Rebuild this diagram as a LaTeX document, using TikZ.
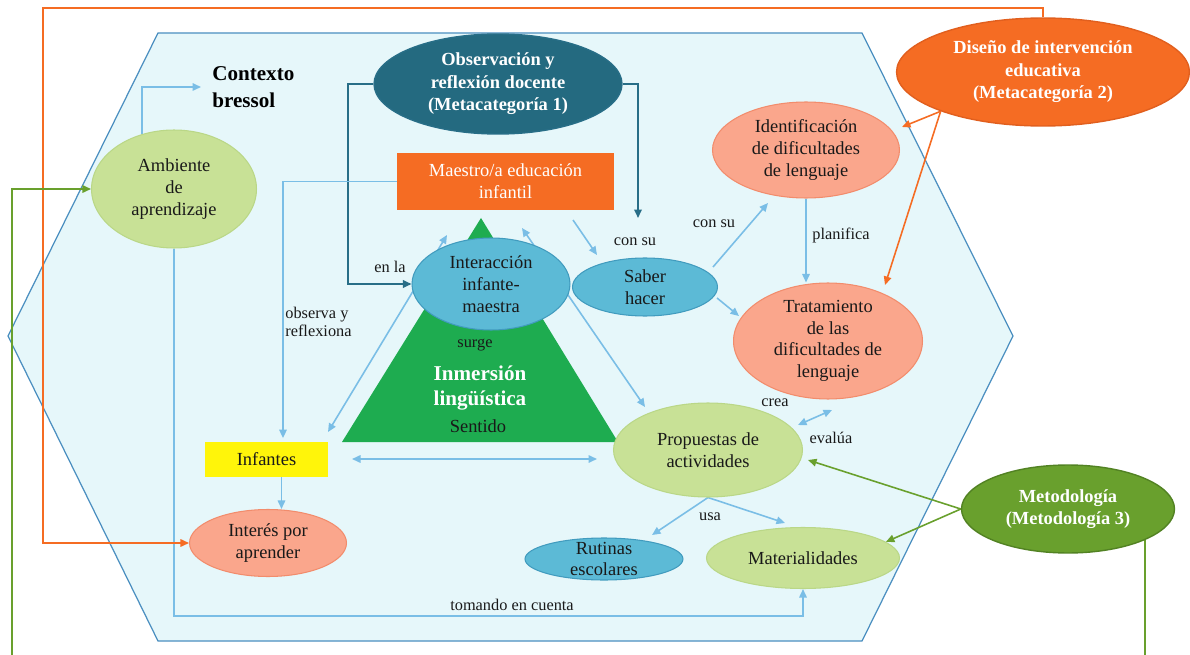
\documentclass[tikz,border=0pt]{standalone}
\usepackage{fontspec}
\setmainfont{Liberation Serif}
\usetikzlibrary{shapes.geometric,arrows.meta,calc}

\definecolor{hexfill}{RGB}{230,247,250}
\definecolor{hexline}{RGB}{75,143,192}
\definecolor{lblue}{RGB}{122,190,230}
\definecolor{tealdark}{RGB}{36,106,128}
\definecolor{tealline}{RGB}{40,110,135}
\definecolor{midblue}{RGB}{92,186,214}
\definecolor{midblueline}{RGB}{65,155,190}
\definecolor{salmon}{RGB}{250,166,140}
\definecolor{salmonline}{RGB}{242,140,108}
\definecolor{lgreen}{RGB}{200,225,150}
\definecolor{lgreenline}{RGB}{186,215,135}
\definecolor{orng}{RGB}{245,108,35}
\definecolor{orngline}{RGB}{225,95,30}
\definecolor{tgreen}{RGB}{30,172,80}
\definecolor{mgreen}{RGB}{105,160,45}
\definecolor{mgreenline}{RGB}{82,130,35}
\definecolor{yel}{RGB}{255,245,10}
\definecolor{ink}{RGB}{25,25,25}

\pgfdeclarelayer{bg}
\pgfdeclarelayer{mid}
\pgfsetlayers{bg,mid,main}

\begin{document}
\begin{tikzpicture}[
  x=0.02cm, y=-0.02cm,
  >={Triangle[length=1.7mm,width=1.5mm]},
  font=\fontsize{10.5}{12.6}\selectfont, text=ink,
  ovalnode/.style={ellipse, inner sep=0pt, align=center, line width=0.6pt},
  lgn/.style={ovalnode, fill=lgreen, draw=lgreenline},
  sal/.style={ovalnode, fill=salmon, draw=salmonline},
  blu/.style={ovalnode, fill=midblue, draw=midblueline},
  metabox/.style={ovalnode, text=white, line width=0.8pt,
    font=\fontsize{10.5}{12.8}\selectfont\bfseries},
  lbl/.style={font=\fontsize{9.3}{10.5}\selectfont, inner sep=0pt},
  lbconn/.style={draw=lblue, line width=0.9pt},
  tlconn/.style={draw=tealline, line width=1.1pt},
  orconn/.style={draw=orng, line width=0.9pt},
  grconn/.style={draw=mgreen, line width=0.9pt}
]
\useasboundingbox (0,0) rectangle (1190,655);

% background hexagon and the triangle
\begin{pgfonlayer}{bg}
  \filldraw[fill=hexfill, draw=hexline, line width=0.7pt]
    (158,33) -- (862,33) -- (1013,336) -- (862,641) -- (158,641) -- (8,336) -- cycle;
  \fill[tgreen] (342,442) -- (618,442) -- (481,218) -- cycle;
\end{pgfonlayer}

% nodes
\node[lgn, minimum width=3.3cm, minimum height=2.36cm] (amb) at (174,189) {Ambiente\\de\\aprendizaje};
\node[anchor=west, inner xsep=0.22cm, inner ysep=0pt, align=left, text=black,
      font=\fontsize{12}{15}\selectfont\bfseries] (ctx) at (201,87) {Contexto\\bressol};
\node[metabox, fill=tealdark, draw=tealline, minimum width=4.96cm, minimum height=2.0cm]
  (obs) at (498,84) {Observación y\\reflexión docente\\(Metacategoría 1)};
\node[rectangle, fill=orng, text=white, minimum width=4.34cm, minimum height=1.14cm,
      align=center, inner sep=0pt] (mae) at (505.5,181.5) {Maestro/a educación\\infantil};
\node[blu, minimum width=3.16cm, minimum height=1.84cm] (inter) at (491,284) {Interacción\\infante-\\maestra};
\node[blu, minimum width=2.9cm, minimum height=1.16cm] (saber) at (645,287) {Saber\\hacer};
\node[sal, minimum width=3.74cm, minimum height=1.92cm] (iden) at (806,150) {Identificación\\de dificultades\\de lenguaje};
\node[sal, minimum width=3.78cm, minimum height=2.32cm, font=\fontsize{10.5}{12.2}\selectfont]
  (trat) at (828,341) {Tratamiento\\de las\\dificultades de\\lenguaje};
\node[metabox, fill=orng, draw=orngline, minimum width=5.86cm, minimum height=2.16cm]
  (dis) at (1043,72) {Diseño de intervención\\educativa\\(Metacategoría 2)};
\node[lgn, minimum width=3.78cm, minimum height=1.88cm] (prop) at (708,450) {Propuestas de\\actividades};
\node[metabox, fill=mgreen, draw=mgreenline, minimum width=4.26cm, minimum height=1.76cm]
  (metod) at (1068,509) {Metodología\\(Metodología 3)};
\node[lgn, minimum width=3.86cm, minimum height=1.22cm] (mat) at (803,558) {Materialidades};
\node[blu, minimum width=3.16cm, minimum height=0.84cm, inner ysep=-5pt,
      font=\fontsize{10.5}{12}\selectfont] (rut) at (604,559) {Rutinas\\escolares};
\node[rectangle, fill=yel, minimum width=2.46cm, minimum height=0.7cm, inner sep=0pt]
  (inf) at (266.5,459.5) {Infantes};
\node[sal, minimum width=3.14cm, minimum height=1.34cm] (int) at (268,543) {Interés por\\aprender};

% texts on the triangle
\node[lbl] (surge) at (475,345) {surge};
\node[align=center, text=white, font=\fontsize{12}{14.2}\selectfont\bfseries] (inm) at (480,388) {Inmersión\\lingüística};
\node[inner sep=0pt] (sent) at (478,426) {Sentido};

% connector labels
\node[lbl] (lenla) at (390,267) {en la};
\node[lbl] (lcon1) at (635,242) {con su};
\node[lbl] (lcon2) at (714,224) {con su};
\node[lbl] (lplan) at (841,235) {planifica};
\node[lbl, anchor=west, align=left] (lobs) at (285,322) {observa y\\reflexiona};
\node[lbl] (lcrea) at (775,403) {crea};
\node[lbl] (leval) at (831,438) {evalúa};
\node[lbl] (lusa) at (710,517) {usa};
\node[lbl] (ltom) at (512,605) {tomando en cuenta};

% free ends and corners of connectors
\coordinate (obsL) at (348,84);
\coordinate (obsEnd) at (638,218);
\coordinate (tb) at (500,616);
\coordinate (mA) at (573,220);  \coordinate (mB) at (597,255);
\coordinate (iiA) at (328,432); \coordinate (iiB) at (447,235);
\coordinate (ipA) at (522,228); \coordinate (ipB) at (645,407);
\coordinate (siA) at (713,267); \coordinate (siB) at (768,203);
\coordinate (stA) at (717,298); \coordinate (stB) at (739,316);
\coordinate (diA) at (902,127);
\coordinate (dtA) at (885,285);
\coordinate (mpA) at (808,460);
\coordinate (gb) at (12,690);
\coordinate (oc) at (43,8);
\coordinate (fpA) at (352,459); \coordinate (fpB) at (597,459);
\coordinate (prA) at (652,535);
\coordinate (pmA) at (785,523);
\coordinate (ceA) at (798,425); \coordinate (ceB) at (832,410);

% connectors
\begin{pgfonlayer}{mid}
  \draw[lbconn, ->] (amb.120) |- (ctx.west);
  \draw[lbconn, ->] (amb.south) |- (tb) -| (mat.south);
  \draw[tlconn, ->] (obs.west) -- (obsL) |- (inter.west);
  \draw[tlconn, ->] (obs.east) -| (obsEnd);
  \draw[lbconn, ->, shorten >=2pt] (mae.west) -| ([xshift=0.33cm]inf.north);
  \draw[lbconn, ->] (mA) -- (mB);
  \draw[lbconn, <->] (iiA) -- (iiB);
  \draw[lbconn, <->] (ipA) -- (ipB);
  \draw[lbconn, ->] (siA) -- (siB);
  \draw[lbconn, ->] (stA) -- (stB);
  \draw[lbconn, ->] (iden.south) -- (iden.south |- trat.north);
  \draw[orconn, ->] (dis.201) -- (diA);
  \draw[orconn, ->] (dis.201) -- (dtA);
  \draw[orconn, ->] (dis.north) |- (oc) |- (int.west);
  \draw[grconn, ->] (metod.west) -- (mpA);
  \draw[grconn, ->] (metod.west) -- (mat.11);
  \draw[grconn, ->] (metod.-22.5) |- (gb) |- (amb.west);
  \draw[lbconn, <->] (fpA) -- (fpB);
  \draw[lbconn, ->] ([xshift=0.3cm]inf.south) -- ([xshift=0.3cm]inf.south |- int.north);
  \draw[lbconn, ->] (prop.south) -- (prA);
  \draw[lbconn, ->] (prop.south) -- (pmA);
  \draw[lbconn, <->] (ceA) -- (ceB);
\end{pgfonlayer}
\end{tikzpicture}
\end{document}
